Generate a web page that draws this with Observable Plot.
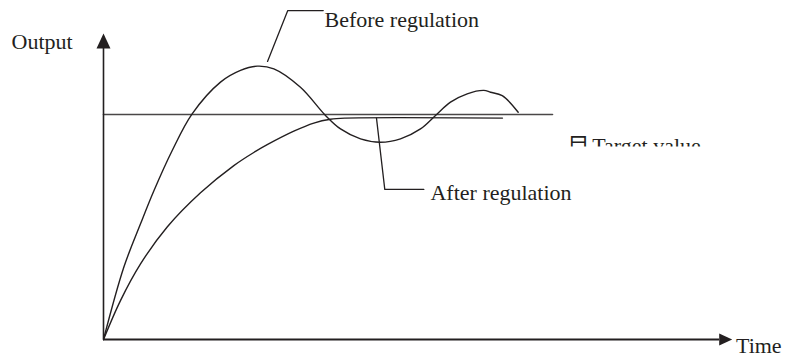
<!DOCTYPE html>
<html><head><meta charset="utf-8">
<script src="https://cdn.jsdelivr.net/npm/d3@7"></script>
<script src="https://cdn.jsdelivr.net/npm/@observablehq/plot@0.6"></script>
<style>body{margin:0;background:#fff}</style>
</head><body><div id="chart"></div>
<script>
// Curve "Before regulation" (time, output relative to target = 1)
const beforeTime = [0,3.23,5.89,8.0,10.93,14.1,18.61,21.79,24.45,27.1,31.33,35.31,37.7,40.88,44.06,47.24,50.42,52.81,55.19,57.85,60.49,61.56,63.42,65.96];
const beforeOutput = [0,0.321,0.514,0.66,0.84,1.003,1.144,1.196,1.215,1.203,1.121,0.996,0.936,0.892,0.877,0.892,0.936,0.996,1.055,1.092,1.107,1.099,1.084,1.01];
// Curve "After regulation"
const afterTime = [0,2.7,5.89,10.13,15.43,20.73,24.18,26.04,30.27,33.45,36.1,38.5,63.46];
const afterOutput = [0,0.173,0.336,0.5,0.652,0.773,0.836,0.866,0.926,0.962,0.979,0.984,0.984];
// Target value line
const targetTime = [0, 71.42];
const targetOutput = [1, 1];
// Leader lines
const beforeLeaderTime = [26.09, 29.31, 34.95];
const beforeLeaderOutput = [1.236, 1.462, 1.462];
const afterLeaderTime = [43.42, 44.74, 50.95];
const afterLeaderOutput = [0.984, 0.667, 0.667];
// Labels
const labelText = ["Output", "Before regulation", "After regulation", "Time"];
const labelTime = [-14.63, 35.15, 52.01, 100.6];
const labelOutput = [1.291, 1.388, 0.618, -0.0578];
// Partly hidden target label
const targetLabelText = ["目", "Target value"];
const targetLabelTime = [73.8, 77.73];
const targetLabelOutput = [0.831, 0.831];
// Axes extents
const axisTimeEnd = 100, axisTimeBase = 97.98;
const axisOutputEnd = 1.36, axisOutputBase = 1.293;

const ink = "#231f20";
const toRows = (xs, ys) => xs.map((x, i) => ({x, y: ys[i]}));
const toLabels = (ts, xs, ys) => ts.map((t, i) => ({t, x: xs[i], y: ys[i]}));
const arrowSymbol = {
  draw(ctx, size) {
    const r = Math.sqrt(size / Math.PI);
    ctx.moveTo(0, 0);
    ctx.lineTo(-0.93 * r, 2 * r);
    ctx.lineTo(0.93 * r, 2 * r);
    ctx.closePath();
  }
};

const chart = Plot.plot({
  width: 787, height: 357,
  marginLeft: 103, marginRight: 55.3, marginTop: 33, marginBottom: 18,
  x: {domain: [0, axisTimeEnd], axis: null},
  y: {domain: [0, axisOutputEnd], axis: null},
  style: {fontFamily: "'Liberation Serif', 'Noto Sans CJK SC', serif", background: "#fff"},
  marks: [
    Plot.line(toRows(targetTime, targetOutput), {x: "x", y: "y", stroke: "#4a4747", strokeWidth: 1.6}),
    Plot.line(toRows(afterTime, afterOutput), {x: "x", y: "y", stroke: ink, strokeWidth: 1.4, curve: "catmull-rom"}),
    Plot.line(toRows(beforeTime, beforeOutput), {x: "x", y: "y", stroke: ink, strokeWidth: 1.4, curve: "catmull-rom"}),
    Plot.line(toRows(beforeLeaderTime, beforeLeaderOutput), {x: "x", y: "y", stroke: ink, strokeWidth: 1.3}),
    Plot.line(toRows(afterLeaderTime, afterLeaderOutput), {x: "x", y: "y", stroke: ink, strokeWidth: 1.3}),
    Plot.ruleX([0], {y1: 0, y2: axisOutputBase, stroke: ink, strokeWidth: 1.6}),
    Plot.ruleY([0], {x1: 0, x2: axisTimeBase, stroke: ink, strokeWidth: 2.2}),
    Plot.dot([{x: 0, y: axisOutputEnd}], {x: "x", y: "y", symbol: arrowSymbol, r: 7.5, fill: ink, stroke: null}),
    Plot.dot([{x: axisTimeEnd, y: 0}], {x: "x", y: "y", symbol: arrowSymbol, r: 6.5, fill: ink, stroke: null, rotate: 90}),
    Plot.text(toLabels(labelText, labelTime, labelOutput), {x: "x", y: "y", text: "t", textAnchor: "start", lineAnchor: "bottom", fontSize: 22, fill: ink}),
    Plot.text(toLabels(targetLabelText, targetLabelTime, targetLabelOutput), {x: "x", y: "y", text: "t", textAnchor: "start", lineAnchor: "bottom", fontSize: 22, fill: ink})
  ]
});
document.getElementById("chart").append(chart);

// clip the lower part of the "Target value" label, as in the reference
const svg = d3.select(chart);
const clipId = "clip-target";
svg.append("defs").append("clipPath").attr("id", clipId)
  .append("rect").attr("x", 0).attr("y", 0).attr("width", 787).attr("height", 146);
const textGroups = chart.querySelectorAll('g[aria-label="text"]');
textGroups[textGroups.length - 1].setAttribute("clip-path", `url(#${clipId})`);
</script>
</body></html>
